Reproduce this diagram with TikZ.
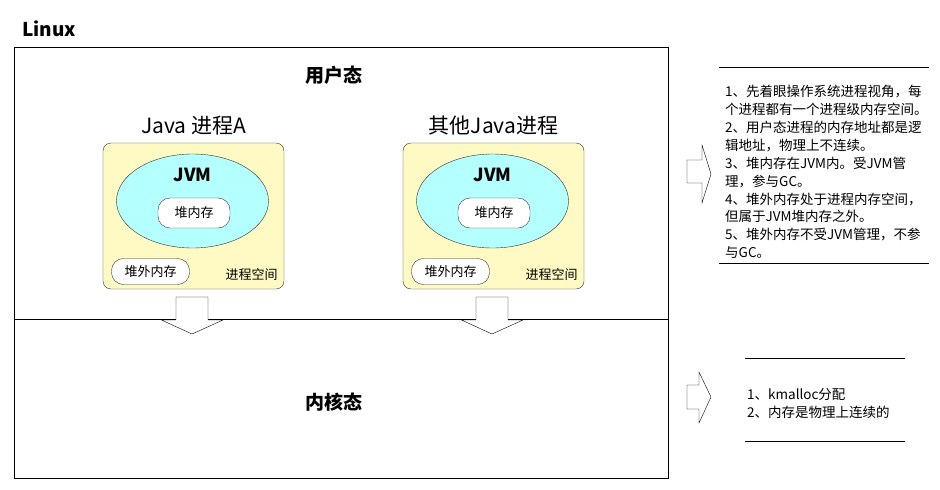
\documentclass[tikz,border=0pt]{standalone}
\usepackage{fontspec}
\setmainfont{Noto Sans CJK SC}
\usetikzlibrary{positioning,shapes.geometric}
\definecolor{procyellow}{RGB}{255,250,195}
\definecolor{jvmcyan}{RGB}{180,255,255}
\tikzset{
  procbox/.style={draw=black!80,fill=procyellow,rounded corners=8pt,minimum width=181pt,minimum height=146pt},
  jvmell/.style={ellipse,draw=black!80,fill=jvmcyan,minimum width=152pt,minimum height=94pt},
  memblock/.style={draw=black!80,fill=white,rounded corners=12pt,minimum height=30pt,font=\fontsize{13}{15}\selectfont},
  small/.style={font=\fontsize{13}{15}\selectfont},
  notes/.style={align=left,inner sep=0pt,anchor=north west,font=\fontsize{13.5}{17.9}\selectfont},
  bigbold/.style={font=\bfseries\fontsize{19}{23}\selectfont}
}
\begin{document}
\begin{tikzpicture}[x=1pt,y=-1pt]
\useasboundingbox (0,0) rectangle (940,490);
\node[bigbold] (linux) at (49,29) {Linux};
\node[draw,minimum width=654pt,minimum height=431pt,inner sep=0pt] (os) at (341,262.5) {};
\draw (14,319.5) -- (668,319.5);
\node[bigbold] (user) at (334,75) {用户态};
\node[bigbold] (kernel) at (334,402) {内核态};
% two processes
\foreach \cx/\id/\title in {193.5/a/{Java 进程A},493.5/b/{其他Java进程}} {
  \node[font=\fontsize{21}{25}\selectfont] (title\id) at (\cx,126) {\title};
  \node[procbox] (proc\id) at (\cx,216) {};
  \node[jvmell] (jvm\id) at (\cx-1,201) {};
  \node[font=\bfseries\fontsize{18}{22}\selectfont] (jvmlab\id) at (\cx-1,175) {JVM};
  \node[memblock,minimum width=72pt] (heap\id) at (\cx+0.5,213) {堆内存};
  \node[memblock,minimum width=78pt,minimum height=26pt] (offheap\id) at (\cx-43,271.5) {堆外内存};
  \node[small] (space\id) at (\cx+58,275) {进程空间};
  \draw[fill=white] (\cx-17.5,297) -- ++(32,0) -- ++(0,23) -- ++(15,0) -- (\cx-1.5,334)
    -- (\cx-32,320) -- (\cx-17.5,320) -- cycle;
}
% notes on the right
\draw[fill=white] (687,160) -- (702,160) -- (702,145) -- (711,174) -- (702,203) -- (702,183) -- (687,183) -- cycle;
\draw (719,67.5) -- (929,67.5);
\draw (719,263.5) -- (929,263.5);
\node[notes] (usernotes) at (725,85) {1、先着眼操作系统进程视角，每\\个进程都有一个进程级内存空间。\\2、用户态进程的内存地址都是逻\\辑地址，物理上不连续。\\3、堆内存在JVM内。受JVM管\\理，参与GC。\\4、堆外内存处于进程内存空间，\\但属于JVM堆内存之外。\\5、堆外内存不受JVM管理，不参\\与GC。};
\draw[fill=white] (687,385) -- (699,385) -- (699,372) -- (711,397) -- (699,423) -- (699,409) -- (687,409) -- cycle;
\draw (745,358.5) -- (905,358.5);
\draw (745,441.5) -- (905,441.5);
\node[notes] (kernelnotes) at (747,388) {1、kmalloc分配\\2、内存是物理上连续的};
\end{tikzpicture}
\end{document}
